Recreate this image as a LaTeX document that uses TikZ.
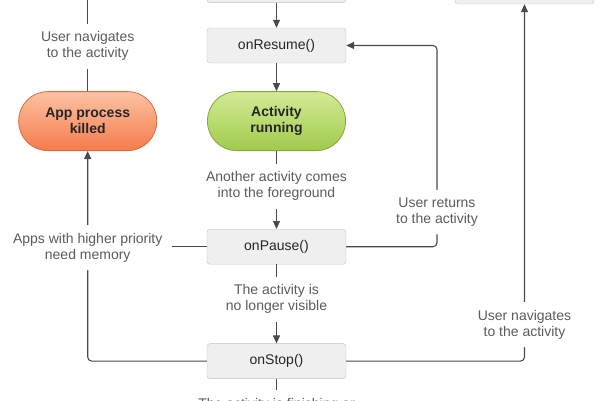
\documentclass[tikz,border=0pt]{standalone}
\usepackage{fontspec}
\setmainfont{Liberation Sans}
\usetikzlibrary{arrows.meta, positioning}
\definecolor{boxfill}{HTML}{EFEFEF}
\definecolor{boxline}{HTML}{C2C2C2}
\definecolor{flowline}{HTML}{4A4A4A}
\definecolor{notegray}{HTML}{5C5C5C}
\definecolor{runtop}{HTML}{D3EB95}
\definecolor{runbot}{HTML}{A0CA4C}
\definecolor{runline}{HTML}{86A83E}
\definecolor{killtop}{HTML}{FCC2A3}
\definecolor{killbot}{HTML}{F47C4C}
\definecolor{killline}{HTML}{D86A40}
\tikzset{
  >={Triangle[length=8pt,width=7pt]},
  base/.style = {rectangle, rounded corners=3pt, text centered, text=black!85,
                 font=\fontsize{14pt}{16pt}\selectfont},
  callback/.style = {base, draw=boxline, fill=boxfill,
                     minimum width=139pt, minimum height=35pt},
  state/.style = {base, rounded corners=29pt, align=center, line width=0.8pt,
                  minimum width=138pt, minimum height=59pt,
                  font=\fontsize{14pt}{16pt}\selectfont\bfseries},
  running/.style = {state, draw=runline, top color=runtop, bottom color=runbot},
  killed/.style = {state, draw=killline, top color=killtop, bottom color=killbot},
  note/.style = {fill=white, text=notegray, align=center, inner sep=8pt,
                 font=\fontsize{14pt}{16pt}\selectfont},
  flow/.style = {draw=flowline, line width=1.1pt},
}

\begin{document}
\begin{tikzpicture}[x=1pt, y=-1pt]
  \useasboundingbox (0,0) rectangle (600,400);
  \clip (0,0) rectangle (600,400);

  % callbacks and states
  \node (resume) [callback] at (276.5,45.5) {onResume()};
  \node (start) [callback, above=25pt of resume] {};
  \node (run) [running, below=28pt of resume] {Activity\\running};
  \node (pause) [callback, below=78pt of run] {onPause()};
  \node (stop) [callback, below=79pt of pause] {onStop()};
  \node (kill) [killed, left=50pt of run] {App process\\killed};
  \node (restart) [callback] at (524.5,-13.5) {};
  \coordinate (create) at (kill.north |- 0,-30);
  \coordinate (destroy) at (stop.south |- 0,470);
  \coordinate (back) at (437,0 |- resume.east);
  \coordinate (memtick) at (172,0 |- pause.west);

  % main flow
  \draw[flow,->] (start) -- (resume);
  \draw[flow,->] (resume) -- (run);
  \draw[flow,->] (run) -- node[note, pos=0.45] (fgnote) {Another activity comes\\into the foreground} (pause);
  \draw[flow,->] (pause) -- node[note, pos=0.44] (hidenote) {The activity is\\no longer visible} (stop);
  \draw[flow,->] (stop) -- node[note, pos=0.37] (finnote) {The activity is finishing or\\being destroyed by the system} (destroy);

  % loops back
  \draw[flow] (pause.west) -- (memtick);
  \draw[flow,->,rounded corners=4pt] (stop) -| node[note, pos=0.77] (memnote) {Apps with higher priority\\need memory} (kill);
  \draw[flow,->] (kill) -- node[note, pos=0.37] (upnote) {User navigates\\to the activity} (create);
  \draw[flow,->,rounded corners=4pt] (pause.east) -| node[note, pos=0.586] (retnote) {User returns\\to the activity} (back) -- (resume.east);
  \draw[flow,->,rounded corners=4pt] (stop) -| node[note, pos=0.551] (navnote) {User navigates\\to the activity} (restart);
\end{tikzpicture}
\end{document}
